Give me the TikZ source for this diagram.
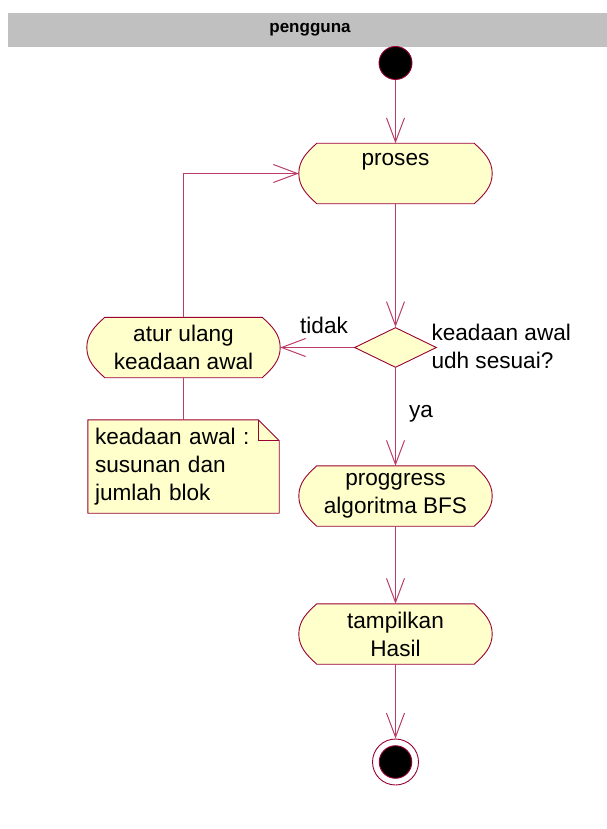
\documentclass[tikz,border=0pt]{standalone}
\usepackage{fontspec}
\setmainfont{Liberation Sans}
\usetikzlibrary{arrows.meta,shapes.geometric,calc,backgrounds}

\definecolor{umlline}{RGB}{153,0,51}
\definecolor{flowline}{RGB}{185,60,105}
\definecolor{umlfill}{RGB}{255,255,204}
\definecolor{lanegray}{RGB}{192,192,192}

\tikzset{
  txt/.style={font=\fontsize{22.6}{28}\selectfont},
  act/.style={txt, rectangle, minimum width=193pt, minimum height=60pt,
    inner sep=0pt, align=center},
  decision/.style={diamond, draw=umlline, fill=umlfill, line width=0.9pt,
    minimum width=82pt, minimum height=40pt, inner sep=0pt},
  notebox/.style={txt, rectangle, text width=177pt, inner xsep=7pt,
    inner ysep=0pt, minimum height=93pt, align=left},
  outline/.style={draw=umlline, fill=umlfill, line width=0.9pt, line join=round},
  flow/.style={draw=flowline, line width=1pt,
    -{Straight Barb[length=24pt,width=18pt,line width=1pt]}},
  link/.style={draw=flowline, line width=1pt},
  startdot/.style={circle, fill=black, draw=umlline, line width=0.9pt,
    minimum size=33pt, inner sep=0pt},
  endring/.style={circle, fill=white, draw=umlline, line width=0.9pt,
    minimum size=46pt, inner sep=0pt},
}

% outline of an action state: flat top/bottom, rounded ends
\newcommand\actionoutline[1]{%
  \draw[outline] ($(#1.north west)+(18,0)$) -- ($(#1.north east)+(-18,0)$)
    .. controls ($(#1.north east)+(-8,9)$) and ($(#1.east)+(0,-13)$) .. (#1.east)
    .. controls ($(#1.east)+(0,13)$) and ($(#1.south east)+(-8,-9)$) .. ($(#1.south east)+(-18,0)$)
    -- ($(#1.south west)+(18,0)$)
    .. controls ($(#1.south west)+(8,-9)$) and ($(#1.west)+(0,13)$) .. (#1.west)
    .. controls ($(#1.west)+(0,-13)$) and ($(#1.north west)+(8,9)$) .. cycle;}

\begin{document}
\begin{tikzpicture}[x=1pt,y=-1pt]
  \useasboundingbox (0,0) rectangle (607,829);

  % swimlane header
  \node[fill=lanegray, minimum width=599pt, minimum height=34.5pt, inner sep=0pt,
    anchor=north west] (lane) at (8,12.5) {};
  \node[font=\bfseries\fontsize{17}{20}\selectfont] (lanetitle) at (310,30) {pengguna};

  % states
  \node[startdot] (start) at (395.5,63) {};
  \node[act] (proses) at (395.5,173.5) {proses\\\mbox{}};
  \node[decision] (dec) at (395.5,347.5) {};
  \node[act] (atur) at (183.5,347.5) {atur ulang\\keadaan awal};
  \node[notebox] (note) at (183.5,466.5) {keadaan awal :\\susunan dan\\jumlah blok};
  \node[act] (prog) at (395.5,496) {proggress\\algoritma BFS};
  \node[act] (tamp) at (395.5,634) {tampilkan\\Hasil};
  \node[endring] (end) at (395.5,762) {};
  \node[startdot, minimum size=32.6pt] (endin) at (end) {};

  % shapes behind the texts
  \begin{scope}[on background layer]
    \actionoutline{proses}
    \actionoutline{atur}
    \actionoutline{prog}
    \actionoutline{tamp}
    \draw[outline] (note.north west) -- ($(note.north east)+(-21,0)$)
      -- ($(note.north east)+(0,21)$) -- (note.south east) -- (note.south west) -- cycle;
    \draw[draw=umlline, line width=0.9pt] ($(note.north east)+(-21,0)$) |- ($(note.north east)+(0,21)$);
  \end{scope}

  % transitions
  \draw[flow] (start) -- (proses);
  \draw[flow] (proses) -- (dec);
  \draw[flow] (dec) -- (atur);
  \draw[flow] (dec) -- (prog);
  \draw[flow] (prog) -- (tamp);
  \draw[flow] (tamp) -- (end);
  \draw[flow] (atur.north) |- (proses.west);
  \draw[link] (atur.south) -- (note.north);

  % guard and condition labels
  \node[txt] (tidak) at (324,325) {tidak};
  \node[txt, anchor=west, align=left] (cond) at (428,346.5) {keadaan awal\\udh sesuai?};
  \node[txt] (ya) at (421,414) {ya};
\end{tikzpicture}
\end{document}
